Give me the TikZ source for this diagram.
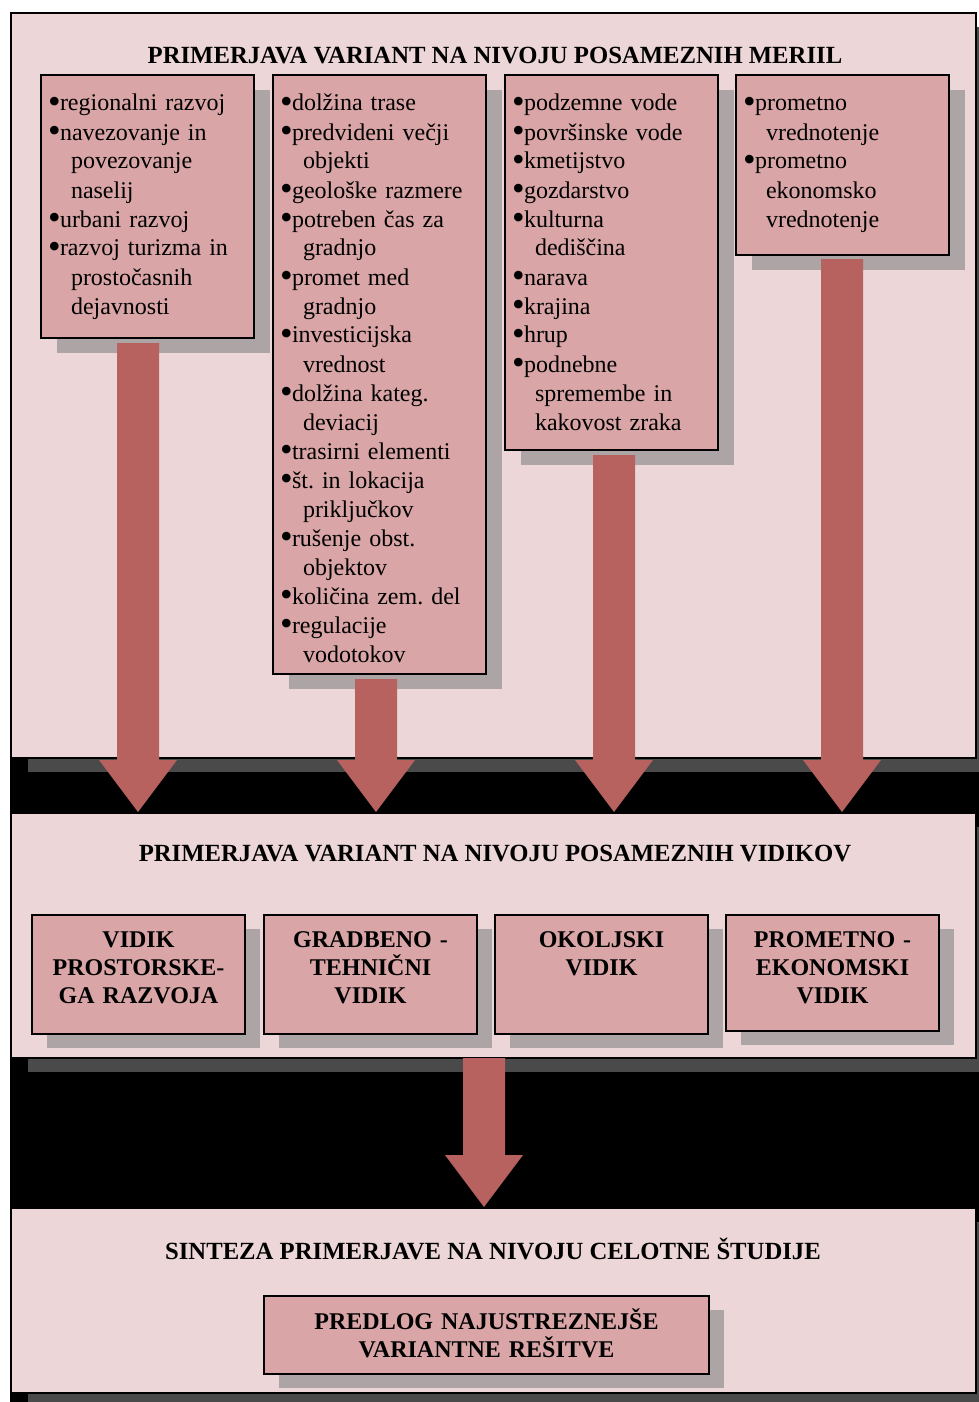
\documentclass[tikz,border=0pt]{standalone}
\usepackage{graphicx}
\usepackage{fontspec}
\setmainfont{Liberation Serif}
\usetikzlibrary{calc, shadows}

\definecolor{panelpink}{RGB}{236,214,215}
\definecolor{boxrose}{RGB}{217,165,166}
\definecolor{arrowred}{RGB}{184,98,96}
\definecolor{lightshade}{RGB}{172,164,165}
\definecolor{darkshade}{RGB}{74,74,74}

\newcommand{\bul}{\makebox[11pt][l]{\hspace*{-1pt}\raisebox{-2.5pt}{\scalebox{1.5}{\textbullet}}}}
\newcommand{\cnt}{\hspace*{22pt}}
\newcommand{\blockarrow}[2]{%
  \fill[arrowred] ($(#1)+(-21,0)$) -- ($(#2)+(-21,-52)$) -- ($(#2)+(-39,-52)$) -- (#2)
    -- ($(#2)+(39,-52)$) -- ($(#2)+(21,-52)$) -- ($(#1)+(21,0)$) -- cycle;}

\begin{document}
\frenchspacing
\begin{tikzpicture}[x=1pt, y=-1pt,
    panel/.style={draw=black, line width=2pt, fill=panelpink, anchor=north west,
      minimum width=965pt, inner sep=0pt,
      drop shadow={shadow xshift=17pt, shadow yshift=-14pt, fill=darkshade, opacity=1}},
    listbox/.style={draw=black, line width=2pt, fill=boxrose, anchor=north west,
      text width=197pt, inner xsep=8pt, inner ysep=0pt, align=left, text height=36pt,
      font=\fontsize{24}{29}\selectfont,
      drop shadow={shadow xshift=16pt, shadow yshift=-15pt, fill=lightshade, opacity=1}},
    aspbox/.style={draw=black, line width=2pt, fill=boxrose, anchor=north west,
      text width=197pt, inner xsep=8pt, inner ysep=0pt, align=center, text height=32pt,
      font=\fontsize{24}{28}\selectfont\bfseries,
      drop shadow={shadow xshift=15pt, shadow yshift=-14pt, fill=lightshade, opacity=1}},
    heading/.style={anchor=base, font=\fontsize{24.7}{28}\selectfont\bfseries}]
  \useasboundingbox (0,0) rectangle (979,1402);
  \fill[black] (10,29) rectangle (979,1402);

  \node[panel, minimum height=745pt] (p1) at (10,12) {};
  \node[panel, minimum height=245pt] (p2) at (10,812) {};
  \node[panel, minimum height=185pt] (p3) at (10,1207) {};

  \node[heading] (t1) at (495,64) {PRIMERJAVA VARIANT NA NIVOJU POSAMEZNIH MERIIL};
  \node[heading] (t2) at (495,861) {PRIMERJAVA VARIANT NA NIVOJU POSAMEZNIH VIDIKOV};
  \node[heading] (t3) at (493,1259) {SINTEZA PRIMERJAVE NA NIVOJU CELOTNE ŠTUDIJE};

  \node[listbox, text depth=227pt] (bA) at (40,74) {\bul regionalni razvoj\\
    \bul navezovanje in\\ \cnt povezovanje\\ \cnt naselij\\
    \bul urbani razvoj\\
    \bul razvoj turizma in\\ \cnt prostočasnih\\ \cnt dejavnosti};
  \node[listbox, text depth=563pt] (bB) at (272,74) {\bul dolžina trase\\
    \bul predvideni večji\\ \cnt objekti\\
    \bul geološke razmere\\
    \bul potreben čas za\\ \cnt gradnjo\\
    \bul promet med\\ \cnt gradnjo\\
    \bul investicijska\\ \cnt vrednost\\
    \bul dolžina kateg.\\ \cnt deviacij\\
    \bul trasirni elementi\\
    \bul št. in lokacija\\ \cnt priključkov\\
    \bul rušenje obst.\\ \cnt objektov\\
    \bul količina zem. del\\
    \bul regulacije\\ \cnt vodotokov};
  \node[listbox, text depth=339pt] (bC) at (504,74) {\bul podzemne vode\\
    \bul površinske vode\\
    \bul kmetijstvo\\
    \bul gozdarstvo\\
    \bul kulturna\\ \cnt dediščina\\
    \bul narava\\
    \bul krajina\\
    \bul hrup\\
    \bul podnebne\\ \cnt spremembe in\\ \cnt kakovost zraka};
  \node[listbox, text depth=144pt] (bD) at (735,74) {\bul prometno\\ \cnt vrednotenje\\
    \bul prometno\\ \cnt ekonomsko\\ \cnt vrednotenje};

  \node[aspbox, text depth=87pt] (v1) at (31,914) {VIDIK\\ PROSTORSKE-\\ GA RAZVOJA};
  \node[aspbox, text depth=87pt] (v2) at (263,914) {GRADBENO -\\ TEHNIČNI\\ VIDIK};
  \node[aspbox, text depth=87pt] (v3) at (494,914) {OKOLJSKI\\ VIDIK};
  \node[aspbox, text depth=84pt] (v4) at (725,914) {PROMETNO -\\ EKONOMSKI\\ VIDIK};

  \node[aspbox, text width=429pt, text height=33pt, text depth=45pt] (sk) at (263,1295)
    {PREDLOG NAJUSTREZNEJŠE\\ VARIANTNE REŠITVE};

  \coordinate (aA) at (138,343);
  \coordinate (aB) at (376,679);
  \coordinate (aC) at (614,455);
  \coordinate (aD) at (842,259);
  \coordinate (aE) at (484,1058);
  \foreach \a in {aA,aB,aC,aD}
    \blockarrow{\a}{\a |- p2.north};
  \blockarrow{aE}{aE |- p3.north}
\end{tikzpicture}
\end{document}
